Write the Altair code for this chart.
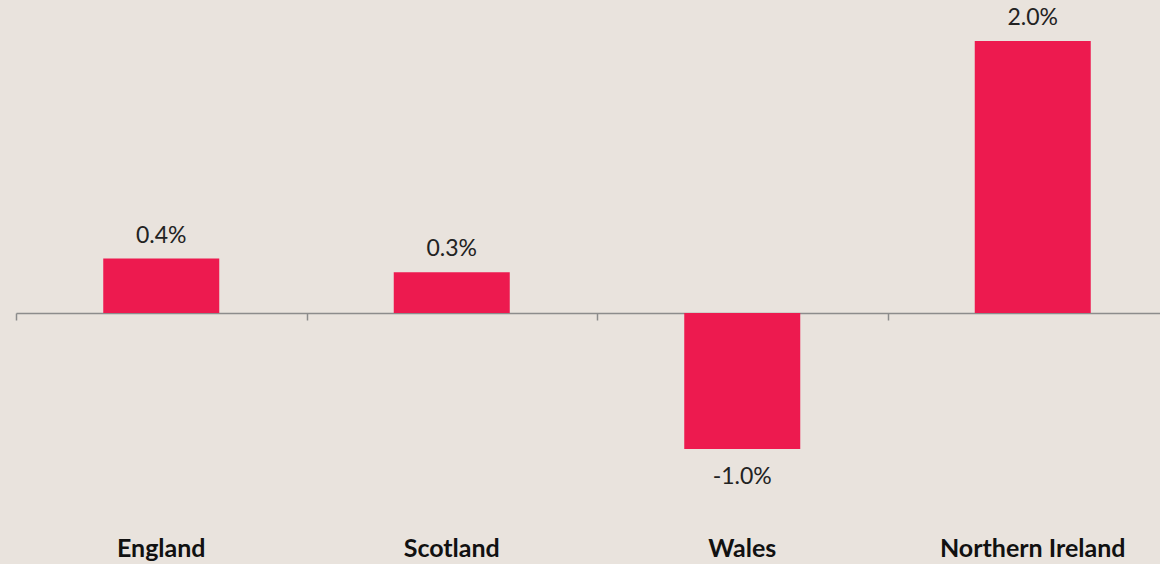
import altair as alt
import pandas as pd
import jinja2

regions = ["England", "Scotland", "Wales", "Northern Ireland"]
values = [0.4, 0.3, -1.0, 2.0]
labels = ["0.4%", "0.3%", "-1.0%", "2.0%"]

df = pd.DataFrame({"region": regions, "value": values, "label": labels})

BG = "#E9E3DD"
BAR = "#ED1A4F"

H = 556
zero_px = 305
px_per = 136.0
ymax = zero_px / px_per
ymin = -(H - zero_px) / px_per

xscale = alt.Scale(domain=regions, range=[0, 1162], paddingInner=0, paddingOuter=0)
yscale = alt.Scale(domain=[ymin, ymax], nice=False, zero=False)

base = alt.Chart(df)

bars = base.mark_bar(size=116, color=BAR).encode(
    x=alt.X("region:N", scale=xscale, sort=regions,
            axis=alt.Axis(title=None, labels=False, tickBand="extent",
                          domainColor="#8C8C8C", domainWidth=1.5,
                          tickColor="#8C8C8C", tickWidth=1.5, tickSize=7,
                          offset=-(H - zero_px))),
    y=alt.Y("value:Q", scale=yscale, axis=None),
)

pos = base.transform_filter("datum.value >= 0").mark_text(
    font="Lato", fontSize=23, color="#222222", baseline="middle", dy=-23
).encode(x=alt.X("region:N", scale=xscale, sort=regions), y=alt.Y("value:Q", scale=yscale), text="label:N")

neg = base.transform_filter("datum.value < 0").mark_text(
    font="Lato", fontSize=23, color="#222222", baseline="middle", dy=28
).encode(x=alt.X("region:N", scale=xscale, sort=regions), y=alt.Y("value:Q", scale=yscale), text="label:N")

cats = base.mark_text(
    font="Lato", fontSize=25, fontWeight="bold", color="#111111", baseline="middle"
).encode(x=alt.X("region:N", scale=xscale, sort=regions), y=alt.value(541), text="region:N")

chart = alt.layer(bars, pos, neg, cats).properties(
    width=1144, height=H, background=BG,
    padding={"left": 16, "top": 8, "right": 0, "bottom": 0},
    autosize=alt.AutoSizeParams(type="none"),
).configure_view(stroke=None)

PAGE = """<!DOCTYPE html>
<html>
<head>
  <meta charset="utf-8">
  <style>
    html, body { margin: 0; padding: 0; background: """ + BG + """; overflow: hidden; }
  </style>
  <script type="text/javascript" src="{{ base_url }}/vega@{{ vega_version }}"></script>
  <script type="text/javascript" src="{{ base_url }}/vega-lite@{{ vegalite_version }}"></script>
  <script type="text/javascript" src="{{ base_url }}/vega-embed@{{ vegaembed_version }}"></script>
</head>
<body>
  <div id="{{ output_div }}"></div>
  <script>
    (function(vegaEmbed) {
      var spec = {{ spec }};
      var embedOpt = {{ embed_options }};
      vegaEmbed("#{{ output_div }}", spec, embedOpt);
    })(vegaEmbed);
  </script>
</body>
</html>
"""

chart.save("out.html", embed_options={"renderer": "svg", "actions": False},
           template=jinja2.Template(PAGE))
